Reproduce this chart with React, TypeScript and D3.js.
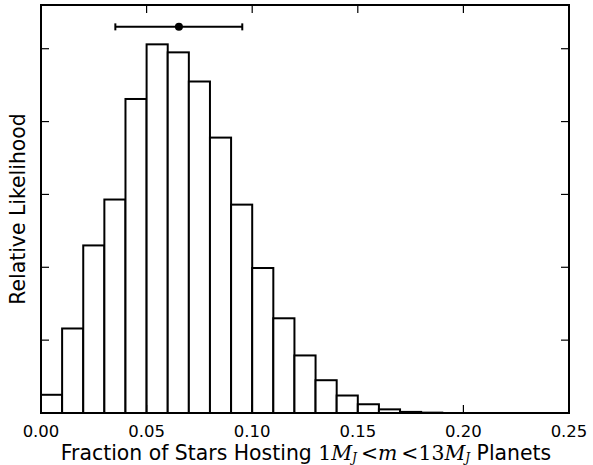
import React from "react";
import * as d3 from "d3";

const binEdgesStart: number[] = [0.0, 0.01, 0.02, 0.03, 0.04, 0.05, 0.06, 0.07, 0.08, 0.09, 0.10, 0.11, 0.12, 0.13, 0.14, 0.15, 0.16, 0.17, 0.18, 0.19];
const binHeights: number[] = [0.25, 1.16, 2.3, 2.93, 4.31, 5.06, 4.95, 4.55, 3.78, 2.86, 1.99, 1.3, 0.79, 0.45, 0.24, 0.12, 0.05, 0.015, 0.005, 0.0];
const binWidth = 0.01;
const xTicks: number[] = [0.0, 0.05, 0.1, 0.15, 0.2, 0.25];
const yTicks: number[] = [1, 2, 3, 4, 5];
const estimate = { lo: 0.0352, mid: 0.0653, hi: 0.0953, level: 5.3 };

const W = 593, H = 465;
const M = { left: 41, right: 24, top: 5, bottom: 52 };

export default function App() {
  const x = d3.scaleLinear().domain([0, 0.25]).range([M.left, W - M.right]);
  const y = d3.scaleLinear().domain([0, 5.6]).range([H - M.bottom, M.top]);
  const x0 = M.left, x1 = W - M.right, y0 = H - M.bottom, y1 = M.top;
  const tick = 8;
  const ey = y(estimate.level);
  const serif = "DejaVu Serif";
  return (
    <svg width={W} height={H} style={{ position: "absolute", left: 0, top: 0, background: "#fff" }}>
      <rect x={0} y={0} width={W} height={H} fill="#fff" />
      {binHeights.map((h, i) => (
        <rect key={i} x={x(binEdgesStart[i])} y={y(h)} width={x(binEdgesStart[i] + binWidth) - x(binEdgesStart[i])} height={y(0) - y(h)} fill="#fff" stroke="#000" strokeWidth={2} />
      ))}
      {xTicks.slice(1, -1).map((t) => (
        <g key={"xt" + t}>
          <line x1={x(t)} x2={x(t)} y1={y0} y2={y0 - tick} stroke="#000" strokeWidth={1.2} />
          <line x1={x(t)} x2={x(t)} y1={y1} y2={y1 + tick} stroke="#000" strokeWidth={1.2} />
        </g>
      ))}
      {yTicks.map((t) => (
        <g key={"yt" + t}>
          <line x1={x0} x2={x0 + tick} y1={y(t)} y2={y(t)} stroke="#000" strokeWidth={1.2} />
          <line x1={x1} x2={x1 - tick} y1={y(t)} y2={y(t)} stroke="#000" strokeWidth={1.2} />
        </g>
      ))}
      <rect x={x0} y={y1} width={x1 - x0} height={y0 - y1} fill="none" stroke="#000" strokeWidth={2} />
      <line x1={x(estimate.lo)} x2={x(estimate.hi)} y1={ey} y2={ey} stroke="#000" strokeWidth={2} />
      <line x1={x(estimate.lo)} x2={x(estimate.lo)} y1={ey - 3.5} y2={ey + 3.5} stroke="#000" strokeWidth={2} />
      <line x1={x(estimate.hi)} x2={x(estimate.hi)} y1={ey - 3.5} y2={ey + 3.5} stroke="#000" strokeWidth={2} />
      <circle cx={x(estimate.mid)} cy={ey} r={4} fill="#000" />
      {xTicks.map((t) => (
        <text key={"xl" + t} x={x(t)} y={y0 + 24} textAnchor="middle" fontFamily="DejaVu Sans" fontSize={16.5} fill="#000">
          {t.toFixed(2)}
        </text>
      ))}
      <text x={(x0 + x1) / 2 + 1} y={y0 + 46.5} textAnchor="middle" fontFamily="DejaVu Sans" fontSize={20.4} fill="#000">
        <tspan>Fraction of Stars Hosting </tspan>
        <tspan fontFamily={serif}>1</tspan>
        <tspan fontFamily={serif} fontStyle="italic">M</tspan>
        <tspan fontFamily={serif} fontStyle="italic" fontSize={12} dy={2.5}>J</tspan>
        <tspan fontFamily={serif} dy={-2.5} dx={4}>&lt;</tspan>
        <tspan fontFamily={serif} fontStyle="italic">m</tspan>
        <tspan fontFamily={serif} dx={4}>&lt;</tspan>
        <tspan fontFamily={serif}>13</tspan>
        <tspan fontFamily={serif} fontStyle="italic">M</tspan>
        <tspan fontFamily={serif} fontStyle="italic" fontSize={12} dy={2.5}>J</tspan>
        <tspan dy={-2.5}> Planets</tspan>
      </text>
      <text transform={`translate(25,${(y0 + y1) / 2}) rotate(-90)`} textAnchor="middle" fontFamily="DejaVu Sans" fontSize={20.4} fill="#000">
        Relative Likelihood
      </text>
    </svg>
  );
}
